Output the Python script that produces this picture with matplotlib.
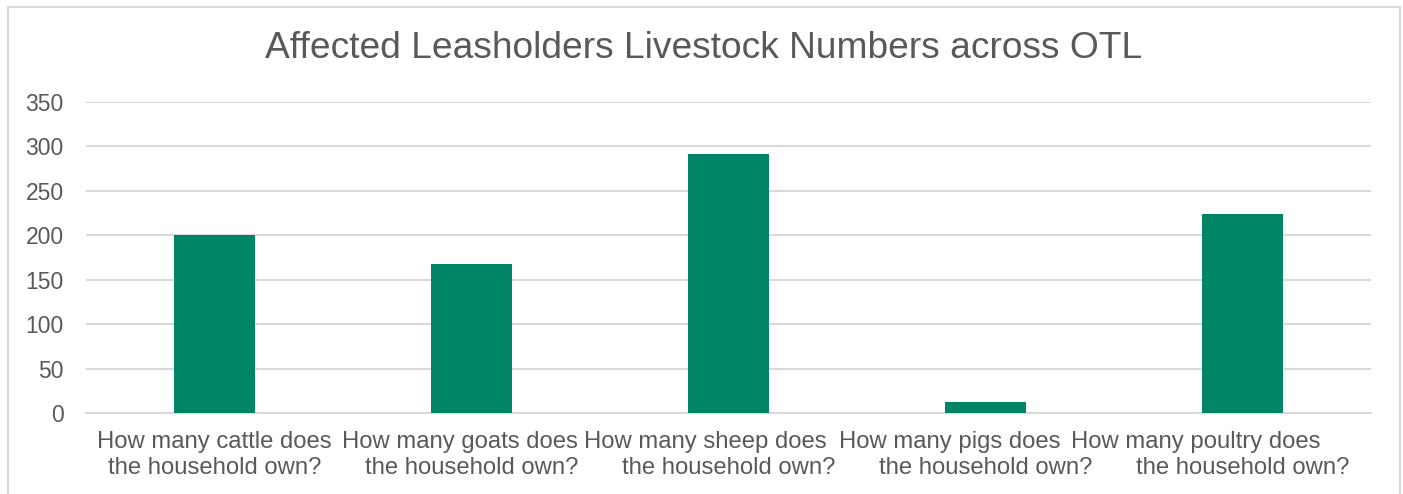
import matplotlib
matplotlib.use("Agg")
import matplotlib.pyplot as plt
import matplotlib.transforms as mtransforms
from matplotlib.patches import Rectangle

plt.rcParams['font.family'] = ['Liberation Sans', 'DejaVu Sans']

question_lines = [
    "How many cattle does",
    "How many goats does",
    "How many sheep does",
    "How many pigs does",
    "How many poultry does",
]
question_tail = "the household own?"
counts = [200, 168, 291, 12, 224]
y_ticks = [0, 50, 100, 150, 200, 250, 300, 350]

bar_color = "#008566"
text_color = "#595959"
grid_color = "#d9d9d9"

fig = plt.figure(figsize=(14.03, 4.94), dpi=100)
ax = fig.add_axes([0.0613, 0.164, 0.9157, 0.630])

# outer chart frame
W, H = 1403, 494
fig.patches.append(Rectangle((8 / W, -0.05), (1400 - 8) / W, (H - 7) / H + 0.05,
                             transform=fig.transFigure, fill=False,
                             edgecolor=grid_color, linewidth=1.5))

x = list(range(len(counts)))
ax.bar(x, counts, width=0.315, color=bar_color, zorder=3)

ax.set_xlim(-0.5, len(counts) - 0.5)
ax.set_ylim(0, 350)
ax.set_yticks(y_ticks)
ax.set_xticks(x)
ax.set_xticklabels([""] * len(x))
ax.tick_params(axis='y', labelsize=16.5, labelcolor=text_color, length=0, pad=16)
ax.tick_params(axis='x', length=0)

# two-line category labels; the first line drifts left a little per category
base = ax.get_xaxis_transform()
for i, head in enumerate(question_lines):
    t1 = mtransforms.offset_copy(base, fig=fig, x=-11.7 * i, y=-29, units='dots')
    t2 = mtransforms.offset_copy(base, fig=fig, x=0, y=-55, units='dots')
    ax.text(i, 0, head, transform=t1, ha="center", va="center",
            fontsize=17.2, color=text_color)
    ax.text(i, 0, question_tail, transform=t2, ha="center", va="center",
            fontsize=17.2, color=text_color)

ax.yaxis.grid(True, color=grid_color, linewidth=1.5, zorder=0)
for side in ["top", "right", "left"]:
    ax.spines[side].set_visible(False)
ax.spines["bottom"].set_color(grid_color)
ax.spines["bottom"].set_linewidth(1.5)

fig.text(704 / W, 1 - 48 / H, "Affected Leasholders Livestock Numbers across OTL",
         ha="center", va="center", fontsize=26.7, color=text_color)

fig.savefig("out.png", dpi=100)
